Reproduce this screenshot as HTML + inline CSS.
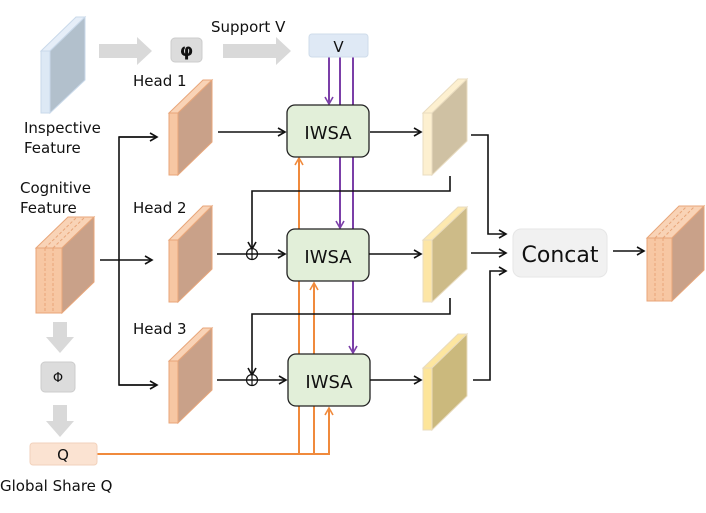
<!DOCTYPE html>
<html><head><meta charset="utf-8"><style>
body{margin:0;background:#fff}
text{font-family:"DejaVu Sans","Liberation Sans",sans-serif;fill:#111}
</style></head><body>
<svg width="706" height="508" viewBox="0 0 706 508" xmlns="http://www.w3.org/2000/svg">
<defs>
<marker id="ak" markerWidth="10" markerHeight="10" refX="8" refY="5" orient="auto" markerUnits="userSpaceOnUse"><path d="M1,1 L8,5 L1,9" fill="none" stroke="#111" stroke-width="1.6"/></marker>
<marker id="ap" markerWidth="10" markerHeight="10" refX="8" refY="5" orient="auto" markerUnits="userSpaceOnUse"><path d="M1,1 L8,5 L1,9" fill="none" stroke="#7b3fa8" stroke-width="1.6"/></marker>
<marker id="ao" markerWidth="10" markerHeight="10" refX="8" refY="5" orient="auto" markerUnits="userSpaceOnUse"><path d="M1,1 L8,5 L1,9" fill="none" stroke="#f08a3c" stroke-width="1.6"/></marker>
</defs>

<polygon points="99,44 137,44 137,37 152,51 137,65 137,58 99,58" fill="#d9d9d9"/>
<polygon points="223,44 276,44 276,37 291,51 276,65 276,58 223,58" fill="#d9d9d9"/>
<polygon points="53,322 67,322 67,337 74,337 60,353 46,337 53,337" fill="#d9d9d9"/>
<polygon points="53,405 67,405 67,421 74,421 60,437 46,421 53,421" fill="#d9d9d9"/>
<rect x="171" y="38" width="31" height="24" rx="4" fill="#dcdcdc" stroke="#ccc"/>
<text x="186.5" y="56" font-size="17" font-weight="bold" text-anchor="middle" font-family="Liberation Serif,serif">φ</text>
<rect x="41" y="362" width="34" height="30" rx="4" fill="#dcdcdc" stroke="#ccc"/>
<text x="58" y="382" font-size="13" text-anchor="middle">Φ</text>

<polygon points="41,51 76,17 85,17 50,51" fill="#e6eef8" stroke="#c9d9ea"/>
<polygon points="50,51 85,17 85,80 50,113" fill="#b2c0cc" stroke="#c9d9ea"/>
<rect x="41" y="51" width="9" height="62" fill="#dde9f5" stroke="#c9d9ea"/>

<g stroke="#e8a67a" stroke-width="1">
<polygon points="169,113 203,80 212,80 178,113" fill="#f9d3b6"/>
<polygon points="178,113 212,80 212,142 178,175" fill="#c9a189"/>
<rect x="169" y="113" width="9" height="62" fill="#f7c7a3"/>
<polygon points="169,240 203,206 212,206 178,240" fill="#f9d3b6"/>
<polygon points="178,240 212,206 212,269 178,302" fill="#c9a189"/>
<rect x="169" y="240" width="9" height="62" fill="#f7c7a3"/>
<polygon points="169,361 203,328 212,328 178,361" fill="#f9d3b6"/>
<polygon points="178,361 212,328 212,390 178,423" fill="#c9a189"/>
<rect x="169" y="361" width="9" height="62" fill="#f7c7a3"/>
<polygon points="36,248 68,217 94,217 62,248" fill="#f9d3b6"/>
<polygon points="62,248 94,217 94,282 62,313" fill="#c9a189"/>
<rect x="36" y="248" width="26" height="65" fill="#f7c7a3"/>
<line x1="45" y1="248" x2="45" y2="313" stroke-dasharray="3,2"/>
<line x1="53" y1="248" x2="53" y2="313" stroke-dasharray="3,2"/>
<line x1="45" y1="248" x2="77" y2="217" stroke-dasharray="3,2"/>
<line x1="53" y1="248" x2="85" y2="217" stroke-dasharray="3,2"/>
<polygon points="647,238 679,206 704,206 672,238" fill="#f9d3b6"/>
<polygon points="672,238 704,206 704,270 672,301" fill="#c9a189"/>
<rect x="647" y="238" width="25" height="63" fill="#f7c7a3"/>
<line x1="655" y1="238" x2="655" y2="301" stroke-dasharray="3,2"/>
<line x1="663" y1="238" x2="663" y2="301" stroke-dasharray="3,2"/>
<line x1="655" y1="238" x2="687" y2="206" stroke-dasharray="3,2"/>
<line x1="663" y1="238" x2="695" y2="206" stroke-dasharray="3,2"/>
</g>

<g stroke="#e9dcc0" stroke-width="1">
<polygon points="423,113 458,79 467,79 432,113" fill="#fdf0d0"/>
<polygon points="432,113 467,79 467,141 432,175" fill="#cfc1a3"/>
<rect x="423" y="113" width="9" height="62" fill="#fdf0d0"/>
<polygon points="423,240 458,207 467,207 432,240" fill="#fde9b0"/>
<polygon points="432,240 467,207 467,269 432,302" fill="#cdbb88"/>
<rect x="423" y="240" width="9" height="62" fill="#fde6a6"/>
<polygon points="423,368 458,334 467,334 432,368" fill="#fde6a0"/>
<polygon points="432,368 467,334 467,396 432,430" fill="#cbb97d"/>
<rect x="423" y="368" width="9" height="62" fill="#fde59a"/>
</g>

<g stroke="#7b3fa8" stroke-width="2" fill="none">
<line x1="329" y1="57" x2="329" y2="104" marker-end="url(#ap)"/>
<line x1="340" y1="57" x2="340" y2="228" marker-end="url(#ap)"/>
<line x1="353" y1="57" x2="353" y2="353" marker-end="url(#ap)"/>
</g>
<g stroke="#f08a3c" stroke-width="2" fill="none">
<polyline points="97,454 329,454 329,408" marker-end="url(#ao)"/>
<polyline points="299,454 299,158" marker-end="url(#ao)"/>
<polyline points="314,454 314,283" marker-end="url(#ao)"/>
</g>

<g fill="#e2efd9" stroke="#222" stroke-width="1.3">
<rect x="287" y="105" width="82" height="52" rx="8"/>
<rect x="287" y="229" width="82" height="52" rx="8"/>
<rect x="288" y="354" width="82" height="52" rx="8"/>
</g>
<text x="328" y="139" font-size="18" text-anchor="middle">IWSA</text>
<text x="328" y="263" font-size="18" text-anchor="middle">IWSA</text>
<text x="329" y="388" font-size="18" text-anchor="middle">IWSA</text>

<rect x="309" y="34" width="59" height="23" rx="3" fill="#dfe9f5" stroke="#cfdcea"/>
<text x="338.5" y="52" font-size="15" text-anchor="middle">V</text>
<rect x="30" y="443" width="67" height="22" rx="3" fill="#fbe3d2" stroke="#f2d2bc"/>
<text x="63" y="460" font-size="15" text-anchor="middle">Q</text>
<rect x="513" y="229" width="94" height="48" rx="8" fill="#f1f1f1" stroke="#e6e6e6"/>
<text x="560" y="262" font-size="22" text-anchor="middle">Concat</text>

<g stroke="#111" stroke-width="1.6" fill="none">
<line x1="100" y1="260" x2="152" y2="260" marker-end="url(#ak)"/>
<polyline points="157,137 119,137 119,385 157,385"/>
<line x1="119" y1="137" x2="157" y2="137" marker-end="url(#ak)"/>
<line x1="119" y1="385" x2="157" y2="385" marker-end="url(#ak)"/>
<line x1="218" y1="132" x2="285" y2="132" marker-end="url(#ak)"/>
<line x1="217" y1="254" x2="285" y2="254" marker-end="url(#ak)"/>
<line x1="217" y1="380" x2="286" y2="380" marker-end="url(#ak)"/>
<polyline points="450,176 450,191 252,191 252,249" marker-end="url(#ak)"/>
<polyline points="450,298 450,314 252,314 252,375" marker-end="url(#ak)"/>
<circle cx="252" cy="254" r="5.5" stroke-width="1.2"/><line x1="252" y1="248" x2="252" y2="260" stroke-width="1.2"/>
<circle cx="252" cy="380" r="5.5" stroke-width="1.2"/><line x1="252" y1="374" x2="252" y2="386" stroke-width="1.2"/>
<line x1="370" y1="132" x2="421" y2="132" marker-end="url(#ak)"/>
<line x1="369" y1="254" x2="421" y2="254" marker-end="url(#ak)"/>
<line x1="370" y1="380" x2="421" y2="380" marker-end="url(#ak)"/>
<polyline points="471,135 488,135 488,234 506,234" marker-end="url(#ak)"/>
<line x1="471" y1="253" x2="506" y2="253" marker-end="url(#ak)"/>
<polyline points="473,380 490,380 490,271 506,271" marker-end="url(#ak)"/>
<line x1="613" y1="251" x2="644" y2="251" marker-end="url(#ak)"/>
</g>

<text x="211" y="32" font-size="15">Support V</text>
<text x="133" y="86" font-size="15">Head 1</text>
<text x="133" y="213" font-size="15">Head 2</text>
<text x="133" y="334" font-size="15">Head 3</text>
<text x="24" y="133" font-size="15">Inspective</text>
<text x="24" y="153" font-size="15">Feature</text>
<text x="20" y="193" font-size="15">Cognitive</text>
<text x="20" y="213" font-size="15">Feature</text>
<text x="0" y="491" font-size="15">Global Share Q</text>
</svg>
</body></html>
